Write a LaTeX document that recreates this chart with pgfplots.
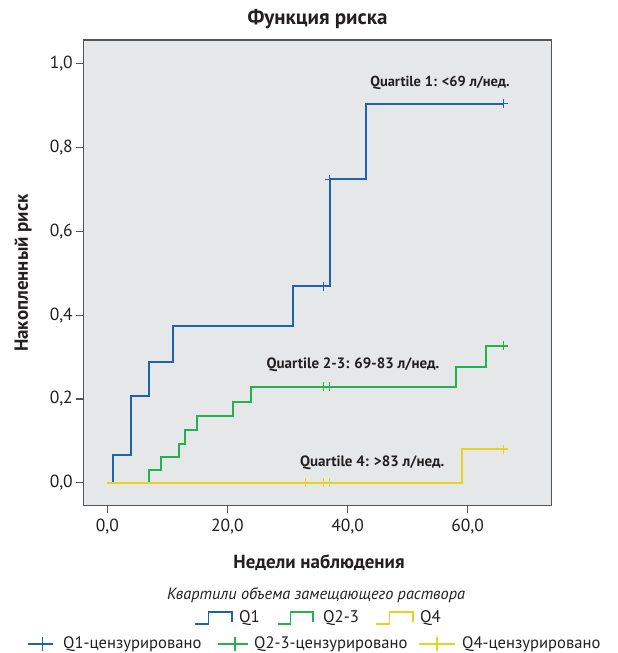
\documentclass[border=0pt]{standalone}
\usepackage{fontspec}
\setmainfont{PT Sans}
\usepackage{pgfplots}
\pgfplotsset{compat=1.18}
\definecolor{qblue}{HTML}{1F63B0}
\definecolor{qgreen}{HTML}{24B24C}
\definecolor{qyellow}{HTML}{E6D31E}
\definecolor{bgcol}{HTML}{E6E7E8}
\definecolor{framecol}{HTML}{555555}
\definecolor{txt}{HTML}{231F20}
\newcommand{\fs}[1]{\fontsize{#1}{#1}\selectfont}
\begin{document}
\begin{tikzpicture}[x=1bp,y=1bp]
\path[use as bounding box] (0,0) rectangle (618,-653);
\begin{axis}[
  at={(83.3bp,-505.7bp)}, anchor=south west,
  scale only axis, width=468.4bp, height=465.7bp,
  xmin=-4, xmax=74, ymin=-0.055, ymax=1.057,
  axis background/.style={fill=bgcol},
  axis line style={draw=framecol, line width=1.4bp},
  tick align=outside, xtick pos=left, ytick pos=left,
  major tick length=7bp,
  tick style={draw=framecol, line width=1.2bp},
  xtick={0,20,40,60}, xticklabels={{0,0},{20,0},{40,0},{60,0}},
  ytick={0,0.2,0.4,0.6,0.8,1.0}, yticklabels={{0,0},{0,2},{0,4},{0,6},{0,8},{1,0}},
  tick label style={font=\fs{17.5bp}, text=txt},
  xticklabel style={yshift=-3bp},
  clip=false,
]
% Q1
\addplot[const plot, draw=qblue, line width=2bp] coordinates {
 (0,0) (1,0.065) (4,0.206) (7,0.287) (11,0.375) (31,0.469) (37,0.724) (43,0.905) (66,0.905)};
% Q2-3
\addplot[const plot, draw=qgreen, line width=2bp] coordinates {
 (0,0) (7,0.030) (9,0.061) (12,0.092) (13,0.125) (15,0.159) (21,0.193) (24,0.229) (58,0.277) (63,0.327) (66,0.327)};
% Q4
\addplot[const plot, draw=qyellow, line width=2bp] coordinates {
 (0,0) (59,0.080) (66,0.080)};
% censored
\addplot[only marks, mark=+, mark size=4.5bp, draw=qblue, mark options={draw=qblue, line width=1.6bp}] coordinates {
 (36,0.469) (37,0.724) (66,0.905)};
\addplot[only marks, mark=+, mark size=4.5bp, draw=qgreen, mark options={draw=qgreen, line width=1.6bp}] coordinates {
 (36,0.229) (37,0.229) (66,0.327)};
\addplot[only marks, mark=+, mark size=4.5bp, draw=qyellow, mark options={draw=qyellow, line width=1.6bp}] coordinates {
 (33,0) (36,0) (37,0) (66,0.080)};
\node[font=\bfseries\fs{14.5bp}, text=txt] at (axis cs:55.4,0.955) {Quartile 1: <69 л/нед.};
\node[font=\bfseries\fs{15bp}, text=txt] at (axis cs:40.9,0.281) {Quartile 2-3: 69-83 л/нед.};
\node[font=\bfseries\fs{15bp}, text=txt] at (axis cs:44.1,0.047) {Quartile 4: >83 л/нед.};
\end{axis}
% titles
\node[font=\bfseries\fs{21bp}, text=txt] at (317.5,-19) {Функция риска};
\node[font=\bfseries\fs{19bp}, text=txt] at (319,-563) {Недели наблюдения};
\node[font=\bfseries\fs{19bp}, text=txt, rotate=90] at (23,-273) {Накопленный риск};
\node[font=\itshape\fs{16.3bp}, text=txt] at (316,-595) {Квартили объема замещающего раствора};
% legend row 1
\foreach \xa/\xb/\c in {195/232/qblue, 278/313/qgreen, 376/413/qyellow}{
  \draw[\c, line width=1.5bp] (\xa,-624) -- ({\xa+0.36*(\xb-\xa)},-624) -- ({\xa+0.36*(\xb-\xa)},-612) -- (\xb,-612) -- (\xb,-622);
}
\node[anchor=west, font=\fs{16.8bp}, text=txt, inner sep=0] at (239,-618) {Q1};
\node[anchor=west, font=\fs{16.8bp}, text=txt, inner sep=0] at (323,-618) {Q2-3};
\node[anchor=west, font=\fs{16.8bp}, text=txt, inner sep=0] at (420,-618) {Q4};
% legend row 2
\foreach \xa/\xb/\xc/\c in {28/53/42.7/qblue, 218/248/235/qgreen, 419/455/437/qyellow}{
  \draw[\c, line width=1.5bp] (\xa,-644) -- (\xb,-644);
  \draw[\c, line width=1.5bp] (\xc,-651) -- (\xc,-637);
}
\node[anchor=west, font=\fs{16.6bp}, text=txt, inner sep=0] at (63,-644) {Q1-цензурировано};
\node[anchor=west, font=\fs{16.6bp}, text=txt, inner sep=0] at (254,-644) {Q2-3-цензурировано};
\node[anchor=west, font=\fs{16.6bp}, text=txt, inner sep=0] at (462,-644) {Q4-цензурировано};
\end{tikzpicture}
\end{document}
